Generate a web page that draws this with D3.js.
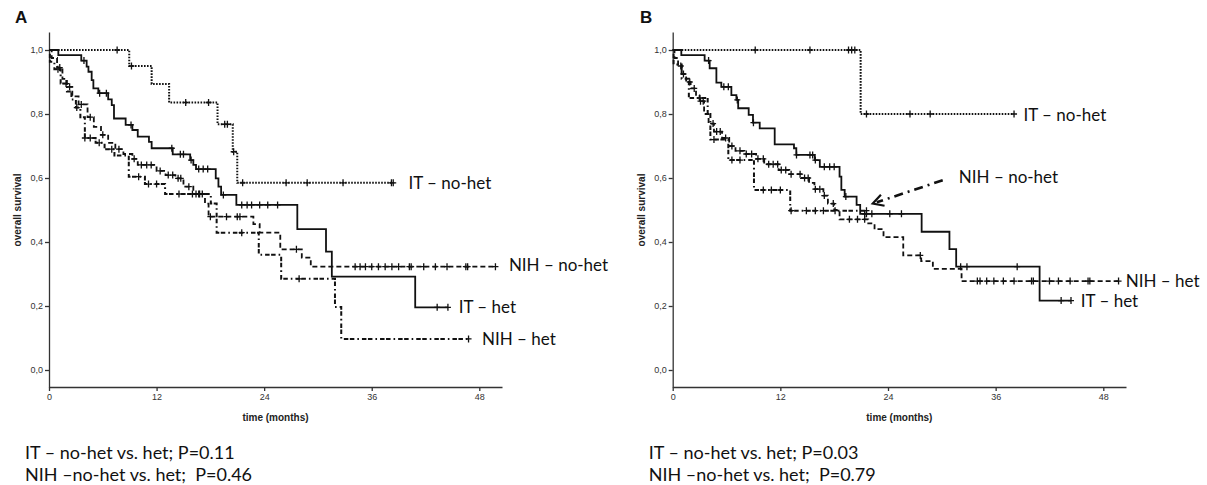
<!DOCTYPE html>
<html><head><meta charset="utf-8">
<script src="https://cdn.jsdelivr.net/npm/d3@7"></script>
<style>
body{margin:0;background:#fff;}
svg{display:block;}
text{white-space:pre;}
</style></head>
<body>
<svg id="chart" width="1207" height="485"></svg>
<script>
// ---------------- DATA ----------------
const xTicks = [0, 12, 24, 36, 48];
const yTicks = [0, 0.2, 0.4, 0.6, 0.8, 1.0];
const panelLetters = ["A", "B"];
const xTitle = "time (months)";
const yTitle = "overall survival";
const pvalTextA = ["IT \u2013 no-het vs. het; P=0.11", "NIH \u2013no-het vs. het;  P=0.46"];
const pvalTextB = ["IT \u2013 no-het vs. het; P=0.03", "NIH \u2013no-het vs. het;  P=0.79"];

// Panel A
const A_ITnohet_t = [8.95, 11.45, 13.4, 18.8, 20.5, 21.0];
const A_ITnohet_s = [0.95, 0.894, 0.836, 0.768, 0.682, 0.585];
const A_ITnohet_c = [7.6, 9.2, 15.25, 17.8, 19.6, 19.9, 20.6, 21.6, 26.45, 28.8, 32.8, 38.2, 38.4];

const A_IThet_t = [1.04, 3.6, 4.2, 4.4, 4.76, 4.95, 5.5, 6.6, 7.0, 7.25, 8.55, 9.3, 9.9, 11.15, 11.45, 13.8, 15.75, 16.1, 16.4, 18.6, 18.9, 19.2, 20.9, 27.7, 30.9, 31.55, 40.85];
const A_IThet_s = [0.984, 0.967, 0.948, 0.932, 0.906, 0.88, 0.865, 0.846, 0.828, 0.786, 0.766, 0.75, 0.729, 0.713, 0.693, 0.674, 0.656, 0.641, 0.628, 0.599, 0.573, 0.547, 0.516, 0.44, 0.37, 0.292, 0.196];
const A_IThet_c = [3.9, 5.65, 6.4, 9.15, 13.7, 14.65, 15.0, 15.85, 16.7, 17.2, 17.7, 19.45, 21.5, 22.1, 22.6, 23.5, 24.4, 25.5, 43.3, 44.5];

const A_NIHnohet_t = [0.3, 0.9, 1.5, 2.0, 2.6, 3.3, 4.3, 5.0, 5.8, 6.6, 7.4, 8.3, 9.3, 9.9, 12.0, 13.0, 14.1, 15.0, 16.1, 17.4, 17.8, 22.8, 23.5, 25.8, 28.2, 29.2];
const A_NIHnohet_s = [0.975, 0.945, 0.91, 0.885, 0.855, 0.83, 0.79, 0.76, 0.735, 0.71, 0.69, 0.675, 0.66, 0.641, 0.622, 0.609, 0.599, 0.573, 0.55, 0.52, 0.479, 0.456, 0.429, 0.377, 0.351, 0.323];
const A_NIHnohet_c = [1.2, 2.3, 3.6, 4.6, 6.0, 7.8, 9.5, 10.3, 10.9, 11.4, 12.4, 13.3, 13.8, 14.4, 14.7, 15.6, 16.4, 16.8, 17.1, 18.0, 19.8, 21.0, 21.3, 27.6, 34.15, 34.7, 35.3, 36.0, 36.75, 37.5, 38.25, 39.0, 40.2, 40.4, 41.8, 43.1, 44.4, 46.5, 46.7, 49.8];

const A_NIHhet_t = [0.1, 0.6, 1.3, 2.0, 2.5, 3.0, 3.5, 4.0, 5.2, 6.2, 7.3, 8.9, 10.7, 12.95, 18.05, 18.7, 23.4, 25.9, 31.9, 32.6];
const A_NIHhet_s = [0.963, 0.94, 0.895, 0.87, 0.845, 0.82, 0.79, 0.725, 0.71, 0.69, 0.67, 0.604, 0.581, 0.55, 0.52, 0.429, 0.36, 0.285, 0.197, 0.097];
const A_NIHhet_c = [1.0, 1.9, 3.1, 4.0, 4.6, 5.6, 7.0, 10.0, 11.1, 12.0, 14.5, 16.0, 16.7, 21.5, 27.9, 46.8];

// Panel B
const B_ITnohet_t = [20.95];
const B_ITnohet_s = [0.80];
const B_ITnohet_c = [9.2, 15.3, 19.6, 19.95, 20.3, 21.6, 26.45, 28.7, 38.05];

const B_IThet_t = [0.96, 3.56, 4.12, 4.87, 5.42, 6.54, 7.1, 7.3, 8.47, 8.95, 9.7, 11.37, 13.52, 13.78, 15.83, 16.4, 18.6, 18.8, 19.17, 20.5, 20.9, 27.75, 30.85, 31.6, 40.9];
const B_IThet_s = [0.984, 0.967, 0.943, 0.898, 0.885, 0.859, 0.844, 0.818, 0.797, 0.773, 0.755, 0.705, 0.693, 0.672, 0.656, 0.635, 0.604, 0.563, 0.542, 0.516, 0.488, 0.432, 0.378, 0.323, 0.217];
const B_IThet_c = [4.0, 5.7, 6.2, 7.2, 9.0, 13.8, 15.3, 15.6, 15.9, 16.9, 17.5, 18.0, 19.3, 21.4, 21.6, 22.2, 24.2, 25.5, 32.1, 32.8, 38.4, 43.3, 44.4];

const B_NIHnohet_t = [0.1, 1.0, 1.8, 3.9, 4.2, 6.2, 9.06, 13.1];
const B_NIHnohet_s = [0.955, 0.91, 0.85, 0.80, 0.72, 0.656, 0.5625, 0.498];
const B_NIHnohet_c = [3.0, 4.6, 6.6, 7.5, 10.1, 11.0, 12.0, 13.2, 14.9, 15.9, 16.8, 18.1, 21.6];

const B_NIHhet_t = [0.2, 0.6, 1.0, 1.5, 2.0, 2.6, 3.0, 3.5, 4.0, 4.6, 5.5, 6.3, 7.0, 8.0, 9.3, 10.2, 11.8, 13.0, 14.3, 15.2, 15.8, 16.8, 17.3, 18.0, 18.6, 21.8, 22.5, 23.5, 25.7, 27.7, 29.0, 32.2];
const B_NIHhet_s = [0.975, 0.95, 0.925, 0.90, 0.88, 0.86, 0.84, 0.80, 0.77, 0.745, 0.725, 0.70, 0.685, 0.675, 0.66, 0.643, 0.625, 0.612, 0.60, 0.585, 0.565, 0.545, 0.52, 0.50, 0.471, 0.458, 0.44, 0.415, 0.358, 0.34, 0.316, 0.278];
const B_NIHhet_c = [0.9, 1.2, 1.9, 2.4, 3.1, 3.4, 4.5, 4.9, 5.3, 5.9, 6.6, 7.5, 8.2, 8.8, 9.5, 10.1, 10.7, 11.2, 11.7, 12.1, 12.6, 13.2, 14.2, 14.7, 15.1, 15.9, 16.4, 16.9, 17.9, 19.7, 20.6, 21.4, 27.6, 33.96, 34.26, 35.0, 35.8, 36.86, 38.05, 40.0, 40.2, 42.0, 43.0, 44.3, 46.3, 46.5, 49.7];

// labels: [text, time, survival] anchor of the curve label
const A_labels = [["IT \u2013 no-het", 40.1, 0.584], ["NIH \u2013 no-het", 51.3, 0.328], ["IT \u2013 het", 45.7, 0.197], ["NIH \u2013 het", 48.3, 0.097]];
const B_labels = [["IT \u2013 no-het", 39.1, 0.797], ["NIH \u2013 no-het", 31.9, 0.603], ["NIH \u2013 het", 50.5, 0.278], ["IT \u2013 het", 45.5, 0.215]];

// ---------------- DRAW ----------------
const svg = d3.select("#chart");
const STYLES = {
  solid:   {dash: null, w: 1.8},
  dotted:  {dash: "1.6,1.4", w: 2},
  dashed:  {dash: "5,3", w: 1.8},
  dashdot: {dash: "1.6,3,4.5,1.5,4.5,3", w: 2}
};

function panel(cfg) {
  const x = d3.scaleLinear().domain([0, 48]).range([cfg.x0, cfg.x48]);
  const y = d3.scaleLinear().domain([0, 1]).range([370, 50]);
  const g = svg.append("g");
  const xMax = x.invert(cfg.xEnd);
  const yTop = y.invert(32), yBot = y.invert(387);
  const xa = d3.scaleLinear().domain([0, xMax]).range([cfg.x0, cfg.xEnd]);
  const ya = d3.scaleLinear().domain([yBot, yTop]).range([387, 32]);

  const gx = g.append("g").attr("transform", "translate(0,387)")
    .call(d3.axisBottom(xa).tickValues(xTicks).tickSize(4).tickSizeOuter(0).tickPadding(3));
  const gy = g.append("g").attr("transform", `translate(${cfg.x0},0)`)
    .call(d3.axisLeft(ya).tickValues(yTicks).tickSize(4).tickSizeOuter(0).tickPadding(2)
      .tickFormat(d => d3.format(".1f")(d).replace(".", ",")));
  [gx, gy].forEach(a => {
    a.selectAll("path, line").attr("stroke", "#333").attr("stroke-width", 1.3);
    a.selectAll("text").attr("font-family", "Liberation Sans, Arial, sans-serif")
      .attr("font-size", 9).attr("fill", "#333");
  });

  g.append("text").attr("x", (cfg.x0 + cfg.xEnd) / 2).attr("y", 421)
    .attr("text-anchor", "middle").attr("font-family", "Liberation Sans, Arial, sans-serif")
    .attr("font-weight", "bold").attr("font-size", 10).attr("fill", "#222").text(xTitle);
  g.append("text").attr("transform", `translate(${cfg.x0 - 28},210) rotate(-90)`)
    .attr("text-anchor", "middle").attr("font-family", "Liberation Sans, Arial, sans-serif")
    .attr("font-weight", "bold").attr("font-size", 10).attr("fill", "#222").text(yTitle);

  g.append("text").attr("x", cfg.letterX).attr("y", 23)
    .attr("font-family", "Liberation Sans, Arial, sans-serif").attr("font-weight", "bold")
    .attr("font-size", 17).attr("fill", "#111").text(cfg.letter);

  const line = d3.line().x(d => x(d[0])).y(d => y(d[1])).curve(d3.curveStepAfter);

  cfg.curves.forEach(c => {
    const end = Math.max(c.t[c.t.length - 1], c.c.length ? c.c[c.c.length - 1] : 0);
    const pts = [[0, 1]];
    c.t.forEach((t, i) => pts.push([t, c.s[i]]));
    pts.push([end, c.s[c.s.length - 1]]);
    const st = STYLES[c.style];
    g.append("path").attr("d", line(pts)).attr("fill", "none").attr("stroke", "#111")
      .attr("stroke-width", st.w).attr("stroke-dasharray", st.dash);
    const survAt = t => { let v = 1; c.t.forEach((tt, i) => { if (tt <= t) v = c.s[i]; }); return v; };
    g.append("g").selectAll("path").data(c.c).join("path")
      .attr("d", t => { const px = x(t), py = y(survAt(t)); return `M${px - 3},${py}h6M${px},${py - 3.5}v7`; })
      .attr("stroke", "#111").attr("stroke-width", 1.3).attr("fill", "none");
  });

  g.append("g").selectAll("text").data(cfg.labels).join("text")
    .attr("x", d => x(d[1])).attr("y", d => y(d[2])).attr("dy", "0.35em")
    .attr("font-family", "Lato, 'Open Sans', sans-serif").attr("font-size", 17).attr("fill", "#111")
    .text(d => d[0]);

  g.append("g").selectAll("text").data(cfg.pvals).join("text")
    .attr("x", cfg.x0 - 24).attr("y", (d, i) => 459 + i * 22)
    .attr("xml:space", "preserve")
    .attr("font-family", "Lato, 'Open Sans', sans-serif").attr("font-size", 18).attr("fill", "#111")
    .text(d => d);
  return {x, y, g};
}

panel({
  letter: panelLetters[0], letterX: 15, x0: 49, x48: 479.3, xEnd: 502,
  curves: [
    {t: A_ITnohet_t, s: A_ITnohet_s, c: A_ITnohet_c, style: "dotted"},
    {t: A_IThet_t, s: A_IThet_s, c: A_IThet_c, style: "solid"},
    {t: A_NIHnohet_t, s: A_NIHnohet_s, c: A_NIHnohet_c, style: "dashed"},
    {t: A_NIHhet_t, s: A_NIHhet_s, c: A_NIHhet_c, style: "dashdot"}
  ],
  labels: A_labels, pvals: pvalTextA
});

const pB = panel({
  letter: panelLetters[1], letterX: 640, x0: 672.7, x48: 1103.3, xEnd: 1126,
  curves: [
    {t: B_ITnohet_t, s: B_ITnohet_s, c: B_ITnohet_c, style: "dotted"},
    {t: B_IThet_t, s: B_IThet_s, c: B_IThet_c, style: "solid"},
    {t: B_NIHnohet_t, s: B_NIHnohet_s, c: B_NIHnohet_c, style: "dashdot"},
    {t: B_NIHhet_t, s: B_NIHhet_s, c: B_NIHhet_c, style: "dashed"}
  ],
  labels: B_labels, pvals: pvalTextB
});

// arrow in panel B pointing at NIH – no-het curve end
const arrowFrom = [30.1, 0.593], arrowTo = [22.3, 0.52];
const ax1 = pB.x(arrowFrom[0]), ay1 = pB.y(arrowFrom[1]), ax2 = pB.x(arrowTo[0]), ay2 = pB.y(arrowTo[1]);
pB.g.append("line").attr("x1", ax1).attr("y1", ay1).attr("x2", ax2 + 4).attr("y2", ay2 - 1.3)
  .attr("stroke", "#111").attr("stroke-width", 2.6).attr("stroke-dasharray", "9,5,2,5");
const ang = Math.atan2(ay1 - ay2, ax1 - ax2);
const hl = 12, ha = 0.5;
pB.g.append("path")
  .attr("d", `M${ax2 + hl * Math.cos(ang - ha)},${ay2 + hl * Math.sin(ang - ha)}L${ax2},${ay2}L${ax2 + hl * Math.cos(ang + ha)},${ay2 + hl * Math.sin(ang + ha)}`)
  .attr("fill", "none").attr("stroke", "#111").attr("stroke-width", 2.2);
</script>
</body></html>
